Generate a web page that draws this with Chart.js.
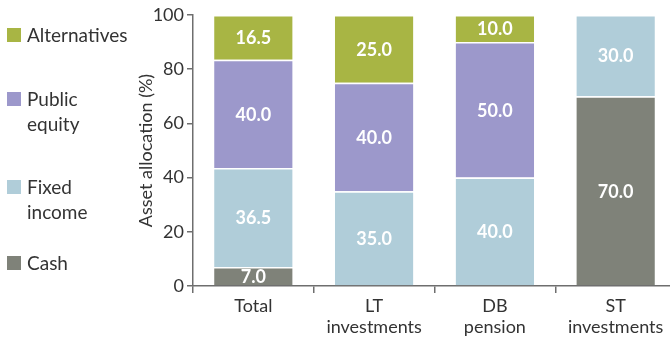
<!DOCTYPE html>
<html><head><meta charset="utf-8">
<script src="https://cdn.jsdelivr.net/npm/chart.js@4.4.0/dist/chart.umd.min.js"></script>
<style>
html,body{margin:0;padding:0;width:670px;height:338px;overflow:hidden;background:#fff;}
#wrap{position:relative;width:670px;height:338px;}
canvas{position:absolute;left:0;top:0;}
.leg{position:absolute;left:7px;font-family:Lato,sans-serif;font-size:19px;color:#333;line-height:25px;}
.sw{position:absolute;left:0;width:14px;height:14px;}
.lt{position:absolute;left:20px;white-space:nowrap;}
</style></head><body>
<div id="wrap">
<canvas id="c" width="680" height="338" style="width:680px;height:338px"></canvas>
</div>
<script>
const categories = [["Total"], ["LT", "investments"], ["DB", "pension"], ["ST", "investments"]];
const seriesNames = ["Cash", "Fixed income", "Public equity", "Alternatives"];
const cash = [7.0, 0, 0, 70.0];
const fixedIncome = [36.5, 35.0, 40.0, 30.0];
const publicEquity = [40.0, 40.0, 50.0, 0];
const alternatives = [16.5, 25.0, 10.0, 0];
const yTicks = [0, 20, 40, 60, 80, 100];
const colors = ["#7f8279", "#b0cdd9", "#9c98cb", "#a8b544"];

const legendItems = [
  {name:["Alternatives"], color:colors[3], y:28},
  {name:["Public","equity"], color:colors[2], y:92},
  {name:["Fixed","income"], color:colors[1], y:180},
  {name:["Cash"], color:colors[0], y:256}
];
const wrap = document.getElementById('wrap');
legendItems.forEach(it=>{
  const d=document.createElement('div'); d.className='leg'; d.style.top=it.y+'px';
  const s=document.createElement('div'); s.className='sw'; s.style.background=it.color; s.style.top='0px';
  const t=document.createElement('div'); t.className='lt'; t.style.top='-6px'; t.innerHTML=it.name.join('<br>');
  d.appendChild(s); d.appendChild(t); wrap.appendChild(d);
});

const valueLabels = {
  id:'valueLabels',
  afterDatasetsDraw(chart){
    const ctx=chart.ctx; ctx.save();
    ctx.font='bold 18px Lato, sans-serif'; ctx.fillStyle='#fff'; ctx.textAlign='center'; ctx.textBaseline='middle';
    chart.data.datasets.forEach((ds,i)=>{
      const meta=chart.getDatasetMeta(i);
      meta.data.forEach((bar,j)=>{
        const v=ds.data[j]; if(!v) return;
        const p=bar.getProps(['x','y','base'],true);
        ctx.fillText(v.toFixed(1), p.x, (p.y+p.base)/2+1);
      });
    });
    ctx.restore();
  }
};

const ds = [cash, fixedIncome, publicEquity, alternatives].map((d,i)=>({
  label: seriesNames[i], data: d, backgroundColor: colors[i],
  borderColor:'#ffffff', borderWidth:{top:1.5,bottom:0,left:0,right:0}, borderSkipped:false,
  barPercentage:0.65, categoryPercentage:1.0
}));

new Chart(document.getElementById('c'), {
  type:'bar',
  data:{labels:categories, datasets:ds},
  options:{
    responsive:false, animation:false, devicePixelRatio:1,
    layout:{padding:{left:135, top:15, right:4, bottom:0}},
    plugins:{legend:{display:false}, tooltip:{enabled:false}},
    scales:{
      x:{stacked:true,
        border:{display:true,color:'#6e6e6e',width:1.5},
        grid:{display:true, offset:true, drawOnChartArea:false, drawTicks:true, tickLength:7, color:'#6e6e6e', lineWidth:1.5},
        ticks:{color:'#333', font:{family:'Lato', size:18}, padding:2, maxRotation:0, autoSkip:false},
        afterFit(s){s.height=52;}
      },
      y:{stacked:true, min:0, max:100,
        border:{display:true,color:'#6e6e6e',width:1.5},
        grid:{display:true, drawOnChartArea:false, drawTicks:true, tickLength:6, color:'#6e6e6e', lineWidth:1.5},
        ticks:{color:'#333', font:{family:'Lato', size:18}, padding:3, stepSize:20,
          callback:(v)=> yTicks.includes(v)? String(v):''},
        title:{display:true, text:'Asset allocation (%)', color:'#333', font:{family:'Lato', size:18}, padding:0},
        afterFit(s){s.width=58;}
      }
    }
  },
  plugins:[valueLabels]
});
</script>
</body></html>
